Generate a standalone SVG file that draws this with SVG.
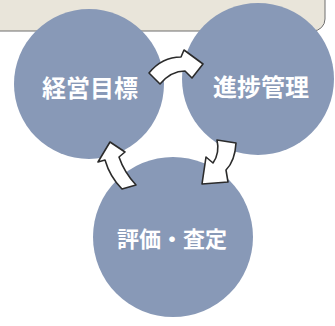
<svg xmlns="http://www.w3.org/2000/svg" width="335" height="326" viewBox="0 0 335 326">
<style>
.c{fill:#8899b7}
.t{fill:#ffffff;font-family:"Noto Sans CJK JP","Noto Sans",sans-serif;font-weight:bold;text-anchor:middle;dominant-baseline:central}
.a{fill:#ffffff;stroke:#2b2b2b;stroke-width:1.6;stroke-linejoin:round}
</style>
<rect width="335" height="326" fill="#ffffff"/>
<rect id="panel" x="-12" y="-12" width="337" height="43" rx="12" fill="#e9e5da" stroke="#6f6f6f" stroke-width="1"/>
<g id="node-keiei"><circle class="c" cx="89" cy="84" r="75"/><text class="t" x="90" y="86" font-size="24">経営目標</text></g>
<g id="node-shinchoku"><circle class="c" cx="258" cy="79" r="76"/><text class="t" x="261" y="85" font-size="24">進捗管理</text></g>
<g id="node-hyouka"><circle class="c" cx="173" cy="237" r="80"/><text class="t" x="172" y="237" font-size="22">評価・査定</text></g>
<g id="connectors">
<path class="a" d="M149,73 Q162,57 181,57 L184,50 L203,64 L192,78 L185,71 Q171,71 160,84 Z"/>
<path class="a" d="M217,140 L236,143 Q235,161 226,170 L228,182 L202,184 L206,157 L213,163 Q220,153 217,140 Z"/>
<path class="a" d="M110,142 L125,152 L119,157 Q124,172 136,185 L122,189 Q110,177 105,160 L98,162 Z"/>
</g>
</svg>
